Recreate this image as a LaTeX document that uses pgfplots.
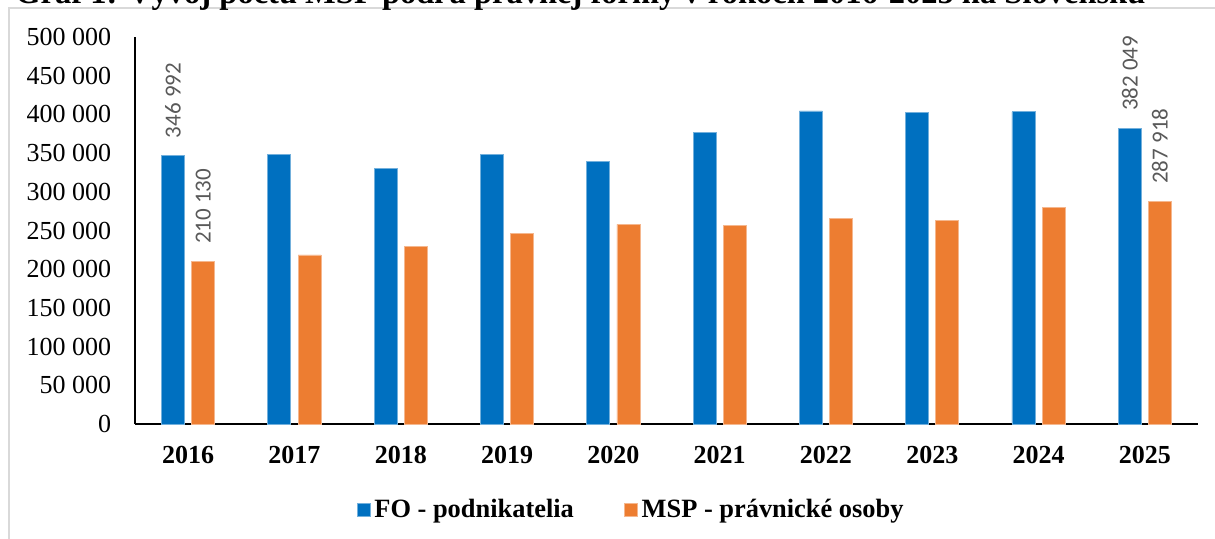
\documentclass[border=0pt]{standalone}
\usepackage{pgfplots}
\pgfplotsset{compat=1.18}
\usepackage{fontspec}
\setmainfont{Liberation Serif}
\newfontfamily\labelfont{Carlito}
\usepackage{graphicx}
\definecolor{blueC}{HTML}{0070C0}
\definecolor{orangeC}{HTML}{ED7D31}
\definecolor{lblgray}{HTML}{595959}
\definecolor{framegray}{HTML}{D9D9D9}
\begin{document}
\begin{tikzpicture}
\draw[framegray, line width=0.75pt] (4.5pt,-290pt) -- (4.5pt,-4pt) -- (620pt,-4pt);
\node[anchor=base west, inner sep=0pt] at (7.5pt,-1.7pt) {\resizebox{565pt}{!}{\bfseries Graf 1: Vývoj počtu MSP podľa právnej formy v rokoch 2016-2025 na Slovensku}};
\begin{axis}[
  at={(67.5pt,-212pt)}, anchor=south west,
  scale only axis, width=531.5pt, height=193.5pt,
  xmin=-0.5, xmax=9.5, ymin=0, ymax=500000,
  axis x line*=bottom, axis y line*=left,
  axis line style={black, line width=1pt, -},
  major tick length=0pt, tick style={draw=none},
  xtick={0,...,9},
  xticklabels={2016,2017,2018,2019,2020,2021,2022,2023,2024,2025},
  ytick={0,50000,...,500000},
  yticklabels={0,{50 000},{100 000},{150 000},{200 000},{250 000},{300 000},{350 000},{400 000},{450 000},{500 000}},
  scaled y ticks=false,
  xticklabel style={font=\fontsize{13pt}{15pt}\selectfont\bfseries, anchor=north, inner sep=0pt, yshift=-11pt},
  yticklabel style={font=\fontsize{13pt}{15pt}\selectfont, anchor=east, inner sep=0pt, xshift=-11.7pt},
  ybar, bar width=11.5pt,
  legend columns=2,
  legend style={at={(0.4676,-0.2222)}, anchor=center, draw=none, fill=none,
    font=\fontsize{13.2pt}{15pt}\selectfont\bfseries,
    /tikz/every even column/.append style={column sep=23pt}},
  legend image code/.code={\fill[#1] (0pt,-3.3pt) rectangle (6.5pt,3.3pt);},
  nodes near coords={\rotatebox{90}{\pgfplotspointmeta}},
  every node near coord/.append style={font=\labelfont\fontsize{11.5pt}{13pt}\selectfont, text=lblgray, anchor=south, inner sep=0pt, yshift=8.5pt},
]
\addplot[fill=blueC, draw=blueC!55!white, line width=0.4pt, bar shift=-7.55pt, nodes near coords={}] coordinates {
(0,346992) (1,348000) (2,330300) (3,348800) (4,338900) (5,376800) (6,404500) (7,403100) (8,403400) (9,382049)};
\addlegendentry{FO - podnikatelia}
\addplot[fill=orangeC, draw=orangeC!55!white, line width=0.4pt, bar shift=7.55pt, nodes near coords={}] coordinates {
(0,210130) (1,218400) (2,229600) (3,246400) (4,258000) (5,257100) (6,265700) (7,263200) (8,279500) (9,287918)};
\addlegendentry{MSP - právnické osoby}
\addplot[draw=none, fill=none, bar shift=-7.55pt, point meta=explicit symbolic, forget plot] coordinates {(0,346992) [346 992] (9,382049) [382 049]};
\addplot[draw=none, fill=none, bar shift=7.55pt, point meta=explicit symbolic, forget plot] coordinates {(0,210130) [210 130] (9,287918) [287 918]};
\end{axis}
\pgfresetboundingbox
\path[use as bounding box] (0pt,0pt) rectangle (607.5pt,-269.5pt);
\end{tikzpicture}
\end{document}
